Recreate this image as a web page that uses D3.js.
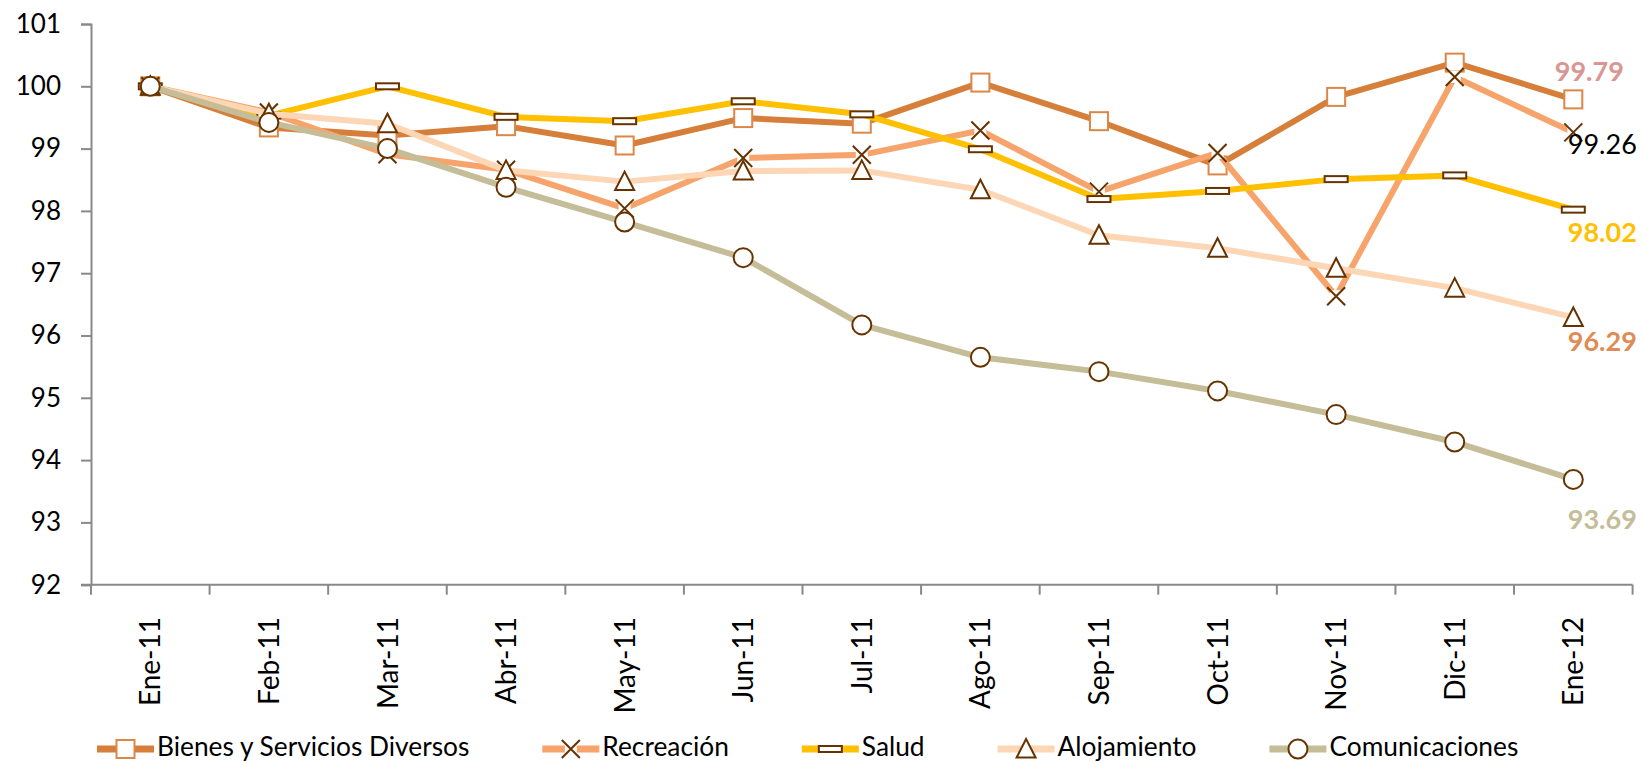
<!DOCTYPE html>
<html>
<head>
<meta charset="utf-8">
<script src="https://cdn.jsdelivr.net/npm/d3@7"></script>
<style>
  html, body { margin: 0; padding: 0; background: #fff; }
  svg { display: block; font-family: Lato, "Open Sans", sans-serif; }
</style>
</head>
<body>
<svg id="chart" width="1643" height="763"></svg>
<script>
// ---- data ----
const categories = ["Ene-11","Feb-11","Mar-11","Abr-11","May-11","Jun-11","Jul-11","Ago-11","Sep-11","Oct-11","Nov-11","Dic-11","Ene-12"];
const bienes         = [100, 99.34, 99.21, 99.36, 99.05, 99.49, 99.40, 100.06, 99.44, 98.73, 99.83, 100.38, 99.79];
const recreacion     = [100, 99.58, 98.91, 98.66, 98.04, 98.85, 98.90, 99.29, 98.31, 98.93, 96.63, 100.15, 99.26];
const salud          = [100, 99.53, 100.00, 99.51, 99.44, 99.76, 99.55, 98.99, 98.19, 98.32, 98.51, 98.57, 98.02];
const alojamiento    = [100, 99.56, 99.40, 98.65, 98.47, 98.64, 98.65, 98.34, 97.61, 97.40, 97.08, 96.76, 96.29];
const comunicaciones = [100, 99.42, 99.00, 98.38, 97.82, 97.25, 96.17, 95.65, 95.42, 95.11, 94.73, 94.29, 93.69];
const seriesNames = ["Bienes y Servicios Diversos","Recreación","Salud","Alojamiento","Comunicaciones"];
const yTicks = [92, 93, 94, 95, 96, 97, 98, 99, 100, 101];

// ---- styles ----
const seriesStyle = [
  {values: bienes,         color: "#D67F3A", marker: "square",   mstroke: "#DC8747", labelColor: "#D99694", labelBold: true,  dx: 16, dy: -28},
  {values: recreacion,     color: "#F6A46B", marker: "x",        mstroke: "#663300", labelColor: "#000000", labelBold: false, dx: 29, dy: 12},
  {values: salud,          color: "#FFC000", marker: "dash",     mstroke: "#663300", labelColor: "#FFC000", labelBold: true,  dx: 29, dy: 23},
  {values: alojamiento,    color: "#FDD6B5", marker: "triangle", mstroke: "#663300", labelColor: "#E08A55", labelBold: true,  dx: 29, dy: 24},
  {values: comunicaciones, color: "#C4BD97", marker: "circle",   mstroke: "#663300", labelColor: "#C4BD97", labelBold: true,  dx: 29, dy: 40}
];

const svg = d3.select("#chart");
const plot = {left: 91, right: 1632.6, top: 24, bottom: 584.7};

const x = d3.scaleBand().domain(categories).range([plot.left, plot.right]).padding(0);
const y = d3.scaleLinear().domain([92, 101]).range([plot.bottom, plot.top]);
const cx = c => x(c) + x.bandwidth() / 2;

const axisColor = "#898989";

// Y axis
const yAxis = svg.append("g").attr("transform", `translate(${plot.left},0)`)
  .call(d3.axisLeft(y).tickValues(yTicks).tickSize(10).tickPadding(20).tickFormat(d3.format("d")));
yAxis.attr("font-family", null);
yAxis.select(".domain").attr("stroke", axisColor).attr("stroke-width", 2);
yAxis.selectAll(".tick line").attr("stroke", axisColor).attr("stroke-width", 2);
yAxis.selectAll(".tick text").attr("font-size", 26).attr("fill", "#000");

// X axis
const xAxis = svg.append("g").attr("transform", `translate(0,${plot.bottom})`)
  .call(d3.axisBottom(x).tickSize(0).tickFormat(""));
xAxis.attr("font-family", null);
xAxis.select(".domain").attr("stroke", axisColor).attr("stroke-width", 2)
  .attr("d", `M${plot.left - 10},0H${plot.right}`);
const bounds = categories.map(c => x(c)).concat([plot.right]);
xAxis.selectAll(".cat-tick").data(bounds).enter().append("line")
  .attr("class", "cat-tick")
  .attr("x1", d => d).attr("x2", d => d).attr("y1", 0).attr("y2", 10)
  .attr("stroke", axisColor).attr("stroke-width", 2);
xAxis.selectAll(".cat-label").data(categories).enter().append("text")
  .attr("class", "cat-label")
  .attr("transform", d => `translate(${cx(d)},${617 - plot.bottom}) rotate(-90)`)
  .attr("text-anchor", "end")
  .attr("dy", "0.36em")
  .attr("font-size", 28)
  .attr("fill", "#000")
  .text(d => d);

// markers
function drawMarker(g, type, stroke) {
  if (type === "square") {
    g.append("rect").attr("x", -9).attr("y", -9).attr("width", 18).attr("height", 18)
      .attr("fill", "#fff").attr("stroke", stroke).attr("stroke-width", 2);
  } else if (type === "x") {
    g.append("rect").attr("x", -6).attr("y", -6).attr("width", 12).attr("height", 12).attr("fill", "#fff");
    g.append("path").attr("d", "M-9,-9L9,9M-9,9L9,-9").attr("stroke", stroke).attr("stroke-width", 2).attr("fill", "none");
  } else if (type === "dash") {
    g.append("rect").attr("x", -11.5).attr("y", -3).attr("width", 23).attr("height", 6)
      .attr("fill", "#fff").attr("stroke", stroke).attr("stroke-width", 2);
  } else if (type === "triangle") {
    g.append("path").attr("d", "M0,-10L9.5,8.5L-9.5,8.5Z")
      .attr("fill", "#fff").attr("stroke", stroke).attr("stroke-width", 2);
  } else if (type === "circle") {
    g.append("circle").attr("r", 9.5)
      .attr("fill", "#fff").attr("stroke", stroke).attr("stroke-width", 2);
  }
}

const line = d3.line().x((d, i) => cx(categories[i])).y(d => y(d));

seriesStyle.forEach((s) => {
  const g = svg.append("g").attr("class", "series");
  g.append("path").datum(s.values).attr("d", line)
    .attr("fill", "none").attr("stroke", s.color).attr("stroke-width", 6)
    .attr("stroke-linejoin", "round");
  s.values.forEach((v, i) => {
    const mg = g.append("g").attr("transform", `translate(${cx(categories[i])},${y(v)})`);
    drawMarker(mg, s.marker, s.mstroke);
  });
});

// end labels
seriesStyle.forEach(s => {
  const last = s.values[s.values.length - 1];
  svg.append("text")
    .attr("x", cx(categories[categories.length - 1]) + s.dx)
    .attr("y", y(last) + s.dy)
    .attr("dy", "0.36em")
    .attr("text-anchor", "middle")
    .attr("font-size", 27)
    .attr("font-weight", s.labelBold ? "bold" : "normal")
    .attr("fill", s.labelColor)
    .text(d3.format(".2f")(last));
});

// legend
const legend = svg.append("g").attr("transform", "translate(97,749)");
let lx = 0;
seriesStyle.forEach((s, i) => {
  const item = legend.append("g").attr("transform", `translate(${lx},0)`);
  item.append("line").attr("x1", 0).attr("x2", 57).attr("y1", 0).attr("y2", 0)
    .attr("stroke", s.color).attr("stroke-width", 7);
  const mg = item.append("g").attr("transform", "translate(28.5,0)");
  drawMarker(mg, s.marker, s.mstroke);
  const t = item.append("text").attr("x", 60).attr("y", 7)
    .attr("font-size", 26.3).attr("fill", "#000").text(seriesNames[i]);
  lx += 60 + t.node().getComputedTextLength() + 73;
});
</script>
</body>
</html>
